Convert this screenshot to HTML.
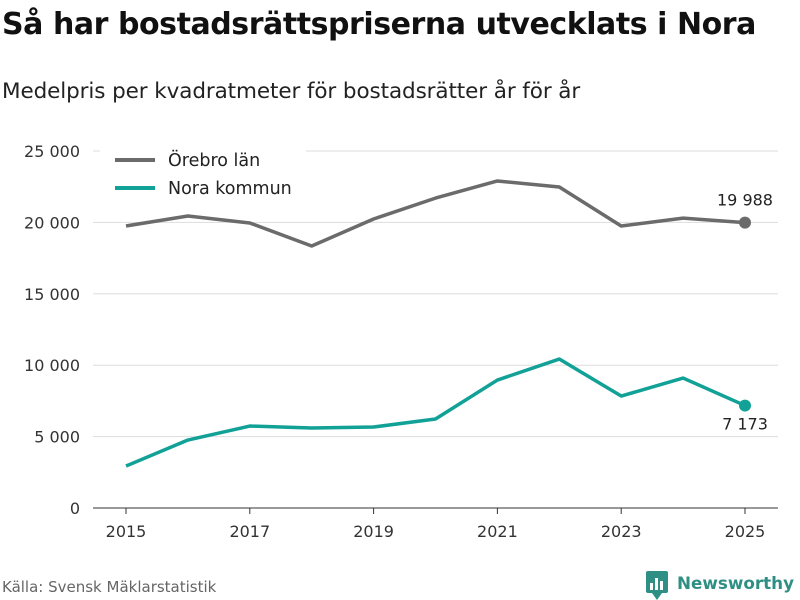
<!DOCTYPE html>
<html><head><meta charset="utf-8"><style>
body{margin:0;width:800px;height:600px;background:#fff;font-family:"Liberation Sans","DejaVu Sans",sans-serif;overflow:hidden;position:relative}
.t{position:absolute;left:2px;top:7px;font-size:30px;font-weight:bold;color:#111;font-family:"DejaVu Sans","Liberation Sans",sans-serif;letter-spacing:-0.45px}
.s{position:absolute;left:2px;top:79px;font-size:21.5px;color:#222;font-family:"DejaVu Sans",sans-serif;letter-spacing:-0.1px}
.src{position:absolute;left:2px;top:578px;font-size:15px;color:#666;font-family:"DejaVu Sans",sans-serif}
</style></head><body>
<div class="t">Så har bostadsrättspriserna utvecklats i Nora</div>
<div class="s">Medelpris per kvadratmeter för bostadsrätter år för år</div>
<div class="src">Källa: Svensk Mäklarstatistik</div>
<svg id="c" width="800" height="600" style="position:absolute;left:0;top:0"></svg>
<script>
const years=[2015,2016,2017,2018,2019,2020,2021,2022,2023,2024,2025];
const orebro=[19750,20450,19960,18350,20240,21700,22900,22480,19750,20300,19988];
const nora=[2940,4760,5740,5600,5670,6230,8960,10430,7840,9100,7173];
const yTicks=[0,5000,10000,15000,20000,25000];
const xTicks=[2015,2017,2019,2021,2023,2025];
const fmt=v=>String(v).replace(/\B(?=(\d{3})+(?!\d))/g,'\u00a0');
const X=y=>126+(y-2015)*61.9;
const Y=v=>508-v*357/25000;
const svg=document.getElementById('c');
const NS='http://www.w3.org/2000/svg';
function mk(tag,at,txt){const e=document.createElementNS(NS,tag);for(const k in at)e.setAttribute(k,at[k]);if(txt!=null)e.textContent=txt;svg.appendChild(e);return e;}
const F='"DejaVu Sans","Liberation Sans",sans-serif';
yTicks.forEach(v=>{
 const l=mk('line',{x1:93,x2:778,y1:Y(v),y2:Y(v),stroke:v===0?'#333':'#ddd','stroke-width':1});
 
 
 const t=mk('text',{x:80,y:Y(v)+6,'text-anchor':'end','font-size':16,fill:'#333','font-family':F},fmt(v));
 
 
});
xTicks.forEach(yr=>{
 const l=mk('line',{x1:X(yr),x2:X(yr),y1:508,y2:514,stroke:'#333'});
 
 
 const t=mk('text',{x:X(yr),y:537,'text-anchor':'middle','font-size':16,fill:'#333','font-family':F},yr);
 
 
});
function series(vals,col,name){
 const p=mk('polyline',{points:vals.map((v,i)=>X(years[i])+','+Y(v)).join(' '),fill:'none',stroke:col,'stroke-width':3.5,'stroke-linejoin':'round'});
 
 
 const n=vals.length-1;
 const c=mk('circle',{cx:X(years[n]),cy:Y(vals[n]),r:6,fill:col});
 
 
}
series(orebro,'#6b6b6b','orebro');
series(nora,'#12a197','nora');
let t=mk('text',{x:X(2025),y:Y(orebro[10])-17,'text-anchor':'middle','font-size':16,fill:'#222','font-family':F},fmt(orebro[10]));


t=mk('text',{x:X(2025),y:Y(nora[10])+24,'text-anchor':'middle','font-size':16,fill:'#222','font-family':F},fmt(nora[10]));


mk('rect',{x:100,y:142,width:206,height:62,fill:'#fff'});
[['Örebro län','#6b6b6b',160],['Nora kommun','#12a197',188]].forEach(([n,c,y])=>{
 const l=mk('line',{x1:115,x2:155,y1:y,y2:y,stroke:c,'stroke-width':4});
 
 
 const tt=mk('text',{x:168,y:y+6,'font-size':17.5,fill:'#222','font-family':F},n);
 
 
});
const g=mk('g',{});


mk('rect',{x:646,y:571,width:22,height:22,rx:2,fill:'#2f8f85'});
mk('path',{d:'M652,593 L657,600 L662,593 Z',fill:'#2f8f85'});
[[650,583,3,7],[655,578,3,12],[660,581,3,9]].forEach(b=>mk('rect',{x:b[0],y:b[1],width:b[2],height:b[3],fill:'#fff'}));
t=mk('text',{x:677,y:589,'font-size':17,'font-weight':'bold',fill:'#2f8f85','font-family':F,textLength:117,lengthAdjust:'spacingAndGlyphs'},'Newsworthy');


</script>
</body></html>
